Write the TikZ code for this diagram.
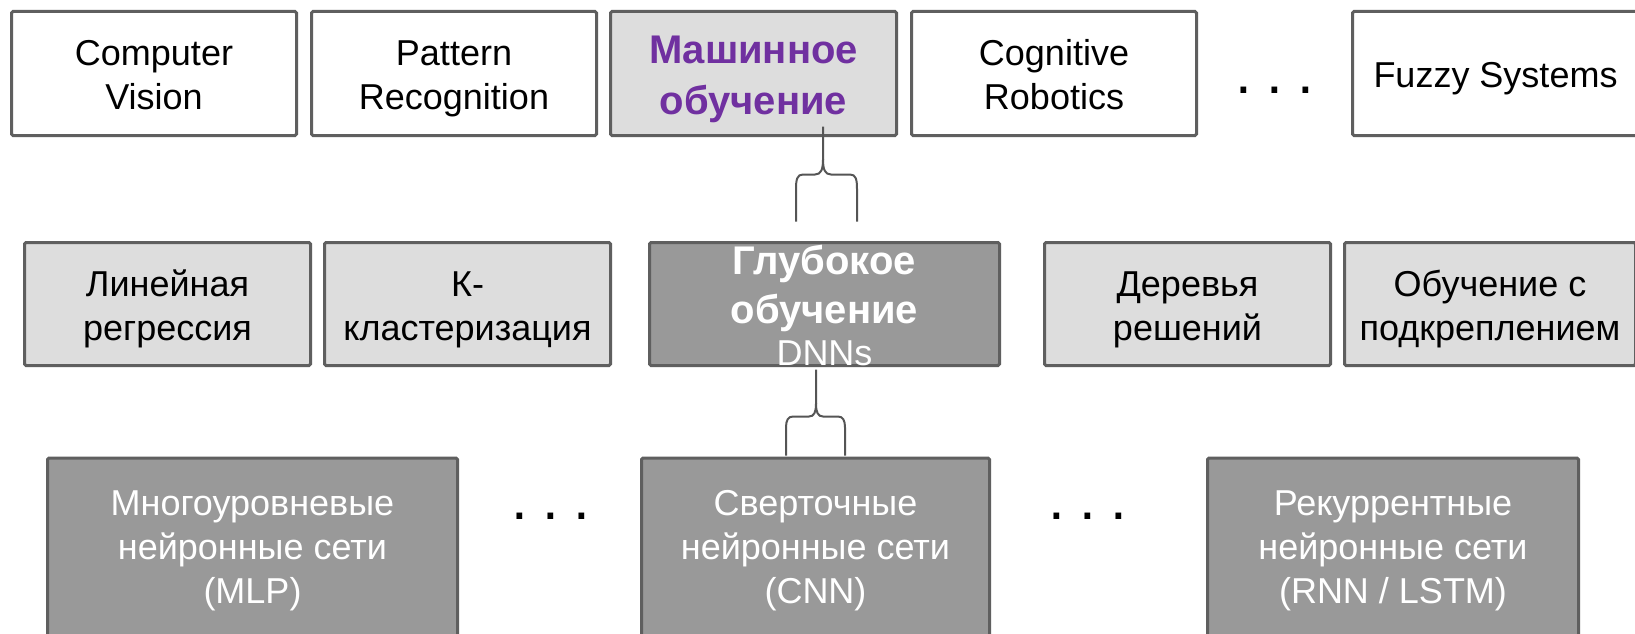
\documentclass[tikz,border=0pt]{standalone}
\usepackage{fontspec}
\setmainfont{Liberation Sans}
\usetikzlibrary{calc}
\definecolor{bordergray}{HTML}{5F5F5F}
\definecolor{lightfill}{HTML}{DDDDDD}
\definecolor{darkfill}{HTML}{999999}
\definecolor{mlpurple}{HTML}{7030A0}
\definecolor{bracegray}{HTML}{555555}
\newcommand{\dotgap}{\hspace{14.6pt}}
\begin{document}
\begin{tikzpicture}[x=1pt,y=-1pt,
  box/.style={draw=bordergray, line width=3pt, rounded corners=1.5pt, inner sep=0pt,
    align=center, font=\fontsize{36}{44}\selectfont},
  toprow/.style={box, minimum height=124pt, text height=84pt, text depth=11.2pt},
  oneline/.style={text height=40pt, text depth=11.2pt},
  midrow/.style={box, minimum height=123pt, text height=84pt, text depth=11.2pt},
  botrow/.style={box, minimum height=178pt, fill=darkfill, text=white, text height=125pt, text depth=12pt},
  boldtxt/.style={font=\bfseries\fontsize{40}{51}\selectfont},
  plaintxt/.style={font=\fontsize{36}{44}\selectfont},
  dotsnode/.style={anchor=base, inner sep=0pt, font=\fontsize{60}{60}\selectfont},
  bracepath/.style={draw=bracegray, line width=2pt, line join=round}
]
\useasboundingbox (0,0) rectangle (1635,634);
\fill[white] (0,0) rectangle (1635,634);
\clip (0,0) rectangle (1635,634);

% top row
\node[toprow, fill=white, minimum width=285pt] (cv) at (154,73.5) {Computer\\Vision};
\node[toprow, fill=white, minimum width=285pt] (pr) at (454,73.5) {Pattern\\Recognition};
\node[toprow, fill=lightfill, minimum width=286pt, text=mlpurple, boldtxt, text height=93pt, text depth=10.4pt] (ml) at (753.5,73.5) {Машинное\\обучение};
\node[toprow, fill=white, minimum width=285pt] (cr) at (1054,73.5) {Cognitive\\Robotics};
\node[dotsnode] (dtop) at (1275,93) {.\dotgap.\dotgap.};
\node[toprow, oneline, fill=white, minimum width=286pt] (fs) at (1495.5,73.5) {Fuzzy Systems};

% middle row
\node[midrow, fill=lightfill, minimum width=286pt] (lr) at (167.5,304) {Линейная\\регрессия};
\node[midrow, fill=lightfill, minimum width=286pt] (kc) at (467.5,304) {К-\\кластеризация};
\node[box, minimum height=123pt, fill=darkfill, minimum width=350pt] (dl) at (824.5,304) {};
\node[anchor=base, inner sep=0pt, text=white, boldtxt] (dla) at (824.5,274) {Глубокое};
\node[anchor=base, inner sep=0pt, text=white, boldtxt] (dlb) at (824.5,323) {обучение};
\node[anchor=base, inner sep=0pt, text=white, plaintxt] (dlc) at (824.5,365) {DNNs};
\node[midrow, fill=lightfill, minimum width=286pt] (dt) at (1187.5,304) {Деревья\\решений};
\node[midrow, fill=lightfill, minimum width=291pt] (rl) at (1490,304) {Обучение с\\подкреплением};

% bottom row
\node[botrow, minimum width=410pt] (mlp) at (252.5,547) {Многоуровневые\\нейронные сети\\(MLP)};
\node[dotsnode] (dbot1) at (551,519) {.\dotgap.\dotgap.};
\node[botrow, minimum width=348pt] (cnn) at (815.5,547) {Сверточные\\нейронные сети\\(CNN)};
\node[dotsnode] (dbot2) at (1088,519) {.\dotgap.\dotgap.};
\node[botrow, minimum width=371pt] (rnn) at (1393,547) {Рекуррентные\\нейронные сети\\(RNN / LSTM)};

% brace from ML to deep learning
\coordinate (b1) at ($(ml.south -| dl.north)+(-1.5,-10.5)$);
\begin{scope}[shift={(b1)}]
\draw[bracepath] (0,0) -- (0,33) .. controls (0,43) and (-2,48) .. (-8,48) -- (-20,48)
  .. controls (-26,48) and (-27,53) .. (-27,63) -- (-27,95);
\draw[bracepath] (0,33) .. controls (0,43) and (2,48) .. (8,48) -- (27,48)
  .. controls (33,48) and (34,53) .. (34,63) -- (34,95);
\end{scope}

% brace from deep learning to CNN
\coordinate (b2) at ($(cnn.north |- dl.south)+(0.5,2.5)$);
\begin{scope}[shift={(b2)}]
\draw[bracepath] (0,0) -- (0,34) .. controls (0,43) and (-2,47) .. (-7,47) -- (-23,47)
  .. controls (-28,47) and (-30,51) .. (-30,58) -- (-30,86);
\draw[bracepath] (0,34) .. controls (0,43) and (2,47) .. (7,47) -- (22,47)
  .. controls (27,47) and (29,51) .. (29,58) -- (29,86);
\end{scope}
\end{tikzpicture}
\end{document}
